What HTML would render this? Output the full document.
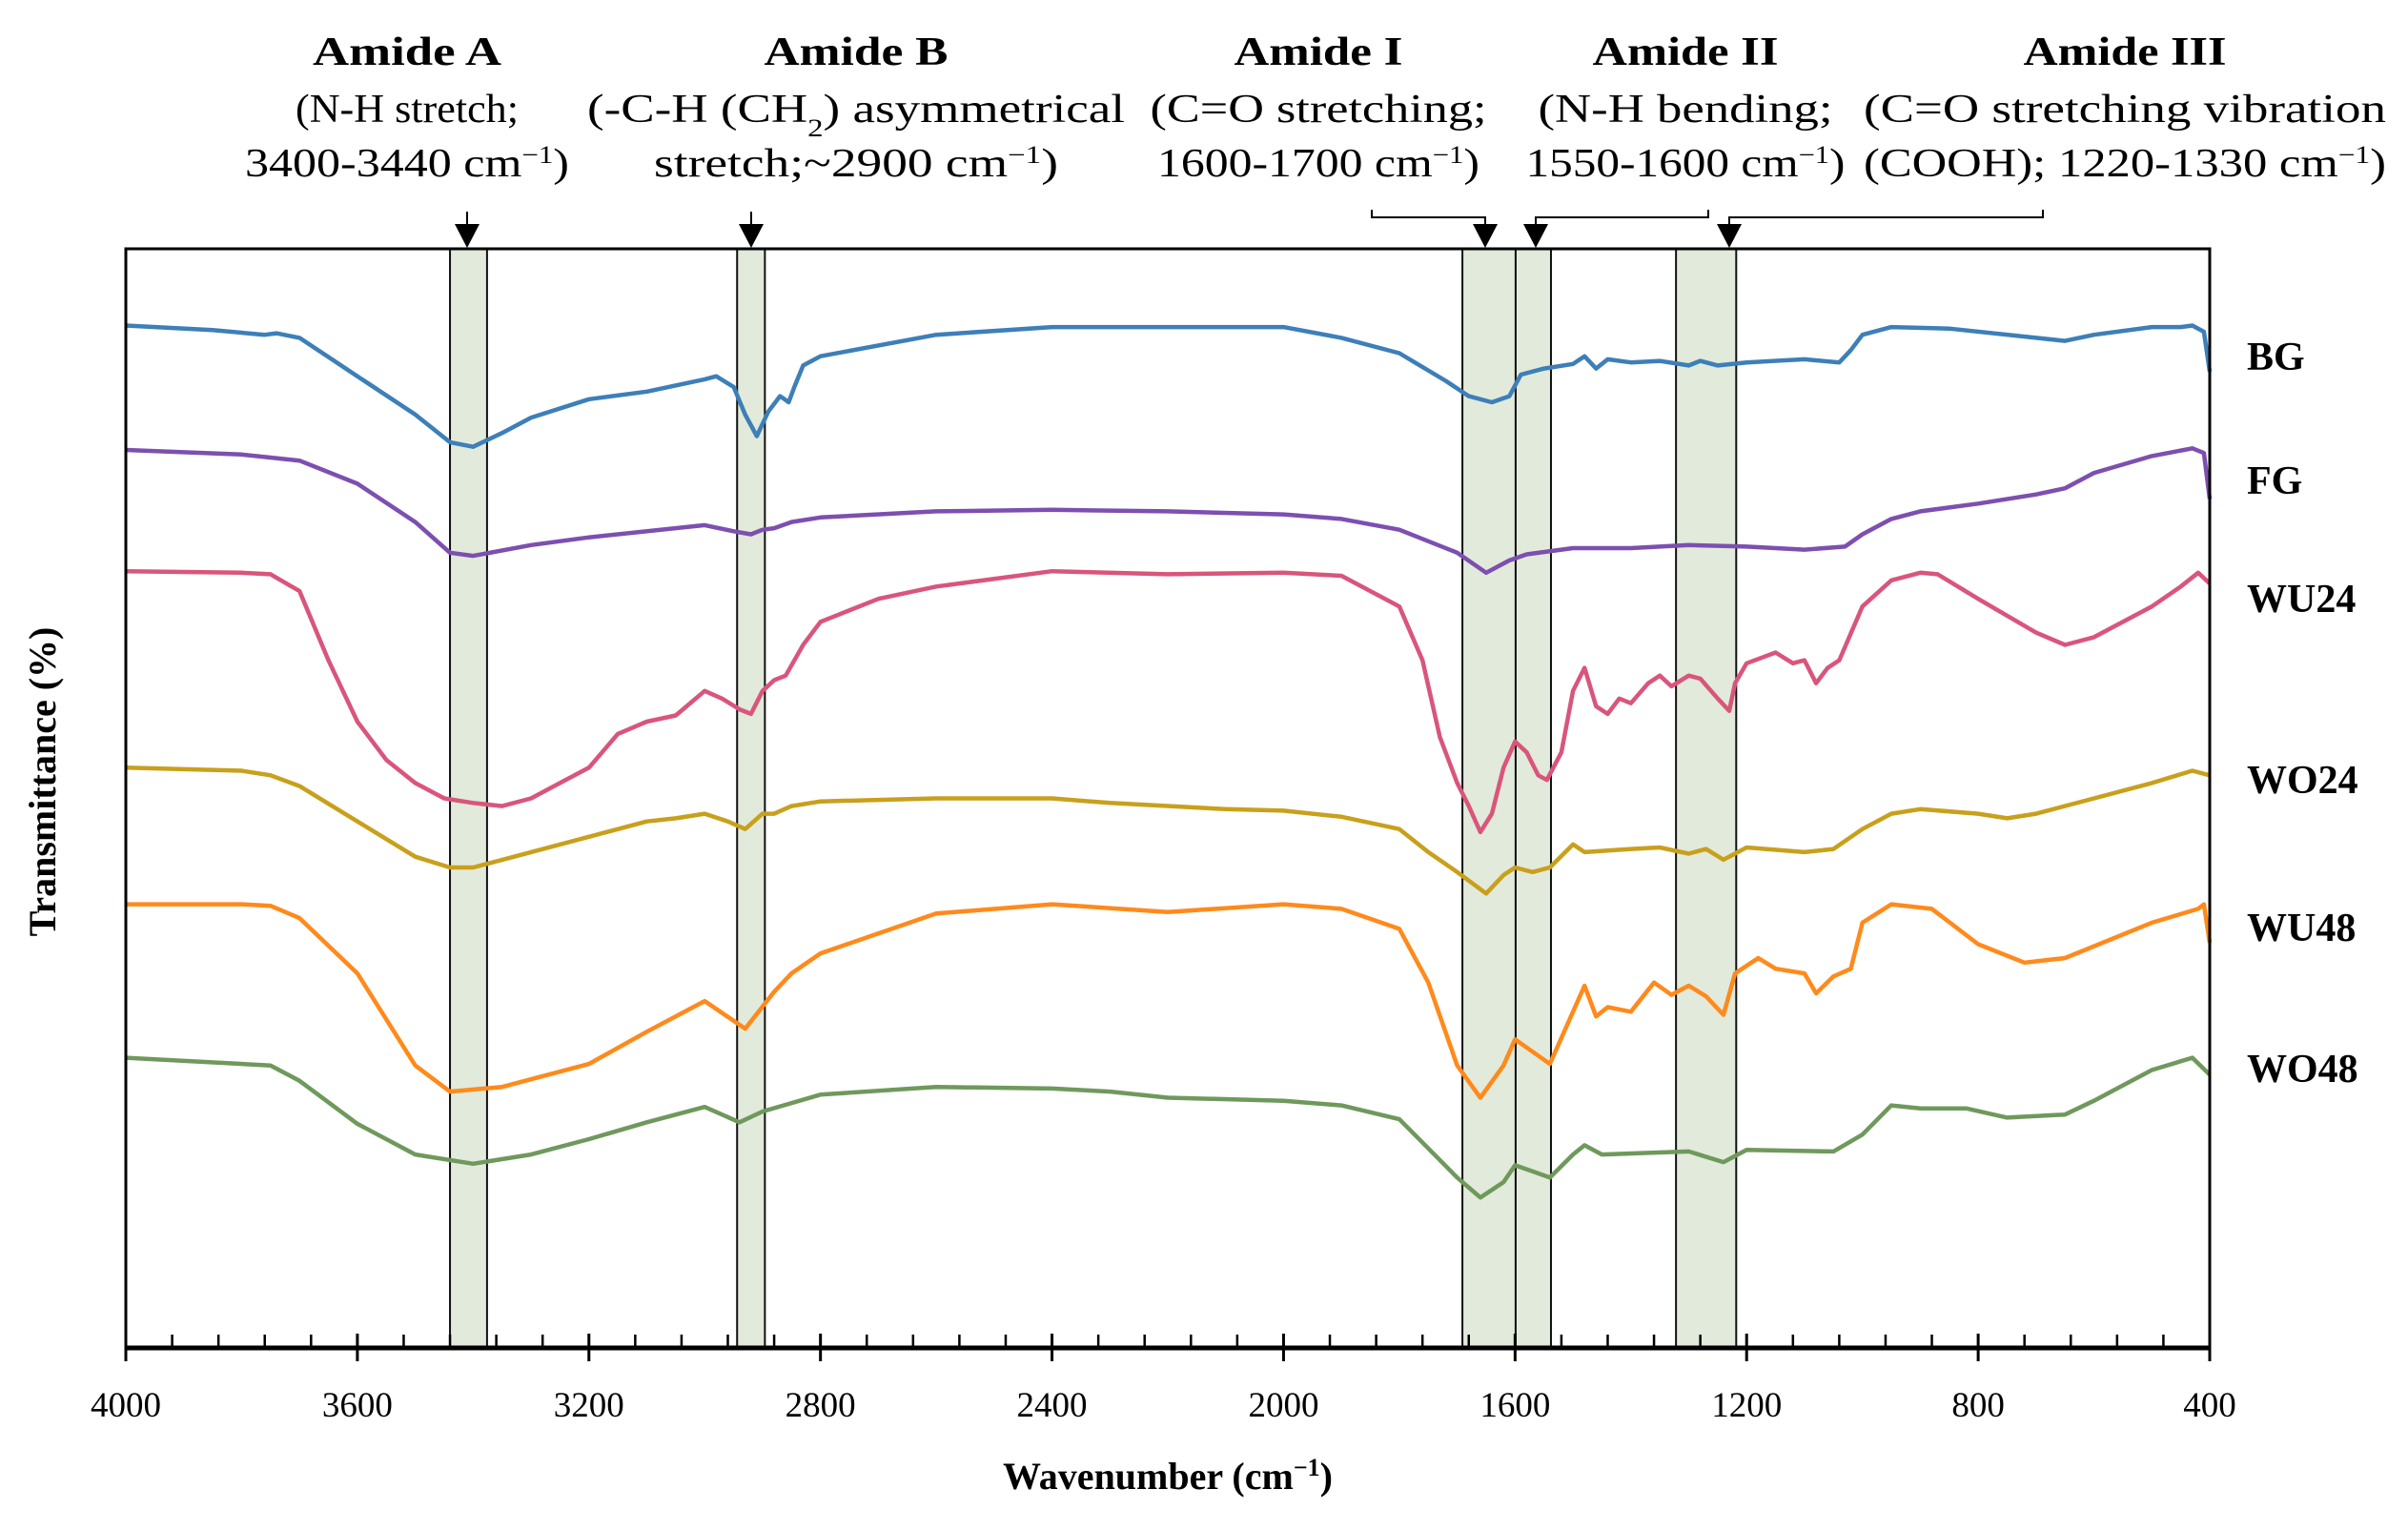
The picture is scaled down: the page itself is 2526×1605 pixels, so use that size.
<!DOCTYPE html>
<html><head><meta charset="utf-8">
<style>
html,body{margin:0;padding:0;background:#fff;}
svg{display:block;font-family:"Liberation Serif",serif;}
</style></head>
<body>
<svg id="chart" width="2526" height="1605" viewBox="0 0 2526 1605" xmlns="http://www.w3.org/2000/svg">
<g id="bands"></g>
<g id="series"></g>
<g id="frame"></g>
<g id="axis"></g>
<g id="labels"></g>
<text x="0" y="0" transform="translate(58,820) rotate(-90)" text-anchor="middle" font-weight="bold" font-size="40">Transmittance (%)</text>
<text x="1225" y="1562" text-anchor="middle" font-weight="bold" font-size="40">Wavenumber (cm<tspan baseline-shift="super" font-size="26">−1</tspan>)</text>
</svg>
<script>
const xTicks = [4000,3600,3200,2800,2400,2000,1600,1200,800,400];
const seriesNames = ["BG","FG","WU24","WO24","WU48","WO48"];
const bgWn = [4000,3850,3760,3740,3700,3600,3500,3440,3400,3350,3300,3200,3100,3000,2980,2950,2930,2910,2890,2870,2862,2855,2845,2830,2800,2600,2400,2200,2000,1900,1800,1720,1680,1640,1610,1590,1550,1500,1480,1460,1440,1400,1350,1300,1280,1250,1200,1100,1040,1020,1000,950,850,700,650,600,500,450,430,410,400];
const bgVal = [666,663,660,661,658,633,608,590,587,596,606,618,623,631,633,626,608,594,610,620,618,616,626,640,646,660,665,665,665,658,648,630,620,616,620,634,638,641,646,638,644,642,643,640,643,640,642,644,642,650,660,665,664,658,656,660,665,665,666,662,636];
const fgWn = [4000,3800,3750,3700,3600,3500,3440,3400,3300,3200,3000,2950,2920,2900,2880,2850,2800,2600,2400,2200,2000,1900,1800,1700,1650,1610,1580,1500,1400,1300,1200,1100,1030,1000,950,900,800,700,650,600,500,430,410,400];
const fgVal = [585,582,580,578,563,538,518,516,523,528,536,532,530,533,534,538,541,545,546,545,543,540,533,518,505,513,517,521,521,523,522,520,522,530,540,545,550,556,560,570,581,586,583,553];
const wu24Wn = [4000,3800,3750,3700,3650,3600,3550,3500,3450,3400,3350,3300,3250,3200,3150,3100,3050,3000,2970,2940,2920,2900,2880,2860,2830,2800,2700,2600,2400,2200,2000,1900,1800,1760,1730,1700,1680,1660,1640,1620,1600,1580,1560,1545,1520,1500,1480,1460,1440,1420,1400,1370,1350,1330,1300,1280,1250,1230,1220,1200,1150,1120,1100,1080,1060,1040,1000,950,900,870,800,700,650,600,500,450,420,400];
const wu24Val = [506,505,504,493,448,408,383,368,358,355,353,358,368,378,400,408,412,428,423,416,413,428,435,438,458,473,488,496,506,504,505,503,483,448,398,368,353,336,348,378,395,388,373,370,388,428,443,418,413,423,420,433,438,431,438,436,423,415,433,446,453,446,448,433,443,448,483,500,505,504,488,466,458,463,483,496,505,498];
const wo24Wn = [4000,3800,3750,3700,3600,3500,3440,3400,3300,3200,3100,3050,3000,2960,2930,2900,2880,2850,2800,2600,2400,2300,2100,2000,1900,1800,1750,1700,1650,1620,1600,1570,1540,1500,1480,1400,1350,1300,1270,1240,1200,1100,1050,1000,950,900,800,750,700,600,500,430,400];
const wo24Val = [378,376,373,366,343,320,313,313,323,333,343,345,348,343,338,348,348,353,356,358,358,355,351,350,346,338,323,310,296,308,313,310,313,328,323,325,326,322,325,318,326,323,325,338,348,351,348,345,348,358,368,376,373];
const wu48Wn = [4000,3800,3750,3700,3600,3500,3440,3350,3200,3100,3000,2930,2880,2850,2800,2600,2400,2200,2000,1900,1800,1750,1700,1660,1620,1600,1570,1540,1500,1480,1460,1440,1400,1360,1330,1300,1270,1240,1220,1180,1150,1100,1080,1050,1020,1000,950,880,800,720,650,500,420,410,400];
const wu48Val = [289,289,288,280,244,184,167,170,185,206,226,208,232,244,257,283,289,284,289,286,273,238,184,163,184,201,193,185,219,236,216,222,219,238,230,236,229,217,244,254,247,244,231,242,247,277,289,286,263,251,254,277,286,289,264];
const wo48Wn = [4000,3750,3700,3600,3500,3400,3300,3200,3100,3000,2940,2900,2800,2600,2400,2300,2200,2000,1900,1800,1750,1700,1660,1620,1600,1570,1540,1500,1480,1450,1300,1240,1200,1050,1000,950,900,820,750,650,600,500,430,400];
const wo48Val = [189,184,174,146,126,120,126,136,147,157,147,154,165,170,169,167,163,161,158,149,130,111,98,108,119,115,111,126,132,126,128,121,129,128,139,158,156,156,150,152,161,181,189,178];
const bandStart = [3440,2944,1691,1599,1322];
const bandEnd = [3376,2896,1599,1538,1218];

const NS="http://www.w3.org/2000/svg";
const X0=132,X1=2318,Y0=261,Y1=1414;
const xs = wn => X0 + (4000-wn)/3600*(X1-X0);
const ys = v => Y1 - v*(Y1-Y0)/716;
function mk(tag, attrs, parent){const e=document.createElementNS(NS,tag);for(const k in attrs)e.setAttribute(k,attrs[k]);parent.appendChild(e);return e;}

const bands=document.getElementById('bands');
bandStart.forEach((s,i)=>{
  const r=mk('rect',{x:xs(s),y:Y0,width:xs(bandEnd[i])-xs(s),height:Y1-Y0,fill:'#e2eadb',stroke:'#111','stroke-width':2},bands);
  
  
});

const colors=["#3d7fb8","#7d4fb0","#d9557c","#c9a01c","#ff8a1c","#6f995c"];
const wns=[bgWn,fgWn,wu24Wn,wo24Wn,wu48Wn,wo48Wn];
const vals=[bgVal,fgVal,wu24Val,wo24Val,wu48Val,wo48Val];
const sg=document.getElementById('series');
wns.forEach((w,i)=>{
  const d=w.map((wn,j)=>(j?'L':'M')+xs(wn).toFixed(1)+','+ys(vals[i][j]).toFixed(1)).join(' ');
  const p=mk('path',{d:d,fill:'none',stroke:colors[i],'stroke-width':4.5,'stroke-linejoin':'round'},sg);
  
  
});

const fr=document.getElementById('frame');
const f=mk('path',{d:`M${X0},${Y1} L${X0},${Y0} L${X1},${Y0} L${X1},${Y1}`,fill:'none',stroke:'#000','stroke-width':3},fr);



const ax=document.getElementById('axis');
const al=mk('line',{x1:X0,y1:Y1,x2:X1,y2:Y1,stroke:'#000','stroke-width':5},ax);


for(let wn=4000;wn>=400;wn-=80){
  const major=(wn%400===0);
  const t=mk('line',{x1:xs(wn),x2:xs(wn),y1:major?Y1-15:Y1-14,y2:major?Y1+14:Y1,stroke:'#000','stroke-width':major?3:2.5},ax);
  
  
}
xTicks.forEach(v=>{
  const t=mk('text',{x:xs(v),y:1486,'text-anchor':'middle','font-size':37},ax);
  t.textContent=v;
  
  
});

const lab=document.getElementById('labels');
const labY=[373,503,627,817,972,1120];
seriesNames.forEach((n,i)=>{
  const t=mk('text',{x:2357,y:labY[i]+15,'font-size':42,'font-weight':'bold'},lab);
  t.textContent=n;
  
  
});
</script>
<svg style="position:absolute;left:0;top:0" width="2526" height="300">
<g font-family="Liberation Serif, serif" fill="#000">
<g text-anchor="middle">
<text x="427" y="68" font-weight="bold" font-size="42" textLength="198" lengthAdjust="spacingAndGlyphs">Amide A</text>
<text x="427" y="128" font-size="42" textLength="234" lengthAdjust="spacingAndGlyphs">(N-H stretch;</text>
<text x="427" y="185" font-size="42" textLength="340" lengthAdjust="spacingAndGlyphs">3400-3440 cm<tspan baseline-shift="super" font-size="26">−1</tspan>)</text>
</g>
<g text-anchor="middle">
<text x="898" y="68" font-weight="bold" font-size="42" textLength="193" lengthAdjust="spacingAndGlyphs">Amide B</text>
<text x="898" y="128" font-size="42" textLength="564" lengthAdjust="spacingAndGlyphs">(-C-H (CH<tspan baseline-shift="sub" font-size="26">2</tspan>) asymmetrical</text>
<text x="898" y="185" font-size="42" textLength="424" lengthAdjust="spacingAndGlyphs">stretch;~2900 cm<tspan baseline-shift="super" font-size="26">−1</tspan>)</text>
</g>
<g text-anchor="middle">
<text x="1383" y="68" font-weight="bold" font-size="42" textLength="177" lengthAdjust="spacingAndGlyphs">Amide I</text>
<text x="1383" y="128" font-size="42" textLength="353" lengthAdjust="spacingAndGlyphs">(C=O stretching;</text>
<text x="1383" y="185" font-size="42" textLength="338" lengthAdjust="spacingAndGlyphs">1600-1700 cm<tspan baseline-shift="super" font-size="26">−1</tspan>)</text>
</g>
<g text-anchor="middle">
<text x="1768" y="68" font-weight="bold" font-size="42" textLength="195" lengthAdjust="spacingAndGlyphs">Amide II</text>
<text x="1768" y="128" font-size="42" textLength="309" lengthAdjust="spacingAndGlyphs">(N-H bending;</text>
<text x="1768" y="185" font-size="42" textLength="335" lengthAdjust="spacingAndGlyphs">1550-1600 cm<tspan baseline-shift="super" font-size="26">−1</tspan>)</text>
</g>
<g text-anchor="middle">
<text x="2229" y="68" font-weight="bold" font-size="42" textLength="213" lengthAdjust="spacingAndGlyphs">Amide III</text>
<text x="2229" y="128" font-size="42" textLength="548" lengthAdjust="spacingAndGlyphs">(C=O stretching vibration</text>
<text x="2229" y="185" font-size="42" textLength="548" lengthAdjust="spacingAndGlyphs">(COOH); 1220-1330 cm<tspan baseline-shift="super" font-size="26">−1</tspan>)</text>
</g>
<g stroke="#000" stroke-width="2" fill="none">
<line x1="490" y1="222" x2="490" y2="240"/>
<line x1="788" y1="222" x2="788" y2="240"/>
<path d="M1439,220 L1439,228 L1558,228 L1558,240"/>
<path d="M1611,240 L1611,228 L1792,228 L1792,220"/>
<path d="M1814,240 L1814,228 L2143,228 L2143,220"/>
</g>
<g fill="#000">
<polygon points="477,235 503,235 490,260"/>
<polygon points="775,235 801,235 788,260"/>
<polygon points="1545,235 1571,235 1558,260"/>
<polygon points="1598,235 1624,235 1611,260"/>
<polygon points="1801,235 1827,235 1814,260"/>
</g>
</g>
</svg>
</body></html>
